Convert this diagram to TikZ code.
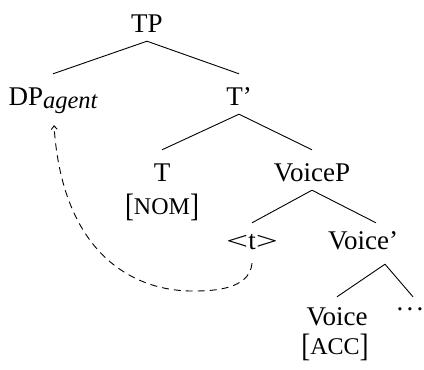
\documentclass[tikz,border=0pt]{standalone}
\usepackage{fontspec}
\setmainfont{Liberation Serif}
\usetikzlibrary{arrows.meta}
\newcommand{\fakesc}[1]{{\fontsize{24}{24}\selectfont #1}}
\newcommand{\lbrk}{\raisebox{-2pt}{\scalebox{1}[1.2]{[}}}
\newcommand{\rbrk}{\raisebox{-2pt}{\scalebox{1}[1.2]{]}}}
\newcommand{\wlt}{\scalebox{1.45}[0.92]{<}}
\newcommand{\wgt}{\scalebox{1.45}[0.92]{>}}
\begin{document}
\begin{tikzpicture}[x=1pt,y=-1pt,
  font=\fontsize{27}{27}\selectfont,
  word/.style={anchor=base,inner xsep=0pt,inner ysep=3pt,text height=28pt,text depth=6pt},
  feat/.style={anchor=base,inner sep=0pt},
  branch/.style={line width=0.9pt},
  move/.style={line width=0.9pt,dash pattern=on 7pt off 5pt,-{Straight Barb[length=3.5pt,width=6pt]}}
  ]
\useasboundingbox (0,0) rectangle (424,370);
\node[word] (TP) at (147,32) {TP};
\node[word] (DP) at (53,105) {DP\raisebox{-3pt}{\fontsize{24.5}{24.5}\selectfont\itshape agent}};
\node[word] (Tbar) at (239,105) {T’};
\node[word,text depth=0pt,inner ysep=1pt] (T) at (162,181) {T};
\node[feat] (nom) at (162,214) {\lbrk\fakesc{NOM}\rbrk};
\node[word] (VoiceP) at (312,181) {VoiceP};
\node[word] (t) at (252,249) {\wlt t\wgt};
\node[word] (Vbar) at (363,249) {Voice’};
\node[word,text depth=0pt,inner ysep=1pt] (Voice) at (337,325) {Voice};
\node[feat] (acc) at (335,354) {\lbrk\fakesc{ACC}\rbrk};
\node[anchor=base,inner xsep=0pt,inner ysep=3pt,text height=10pt,text depth=0pt] (dots) at (410,310) {.\kern3.25pt.\kern3.25pt.};
\draw[branch] (TP.south) -- (DP.north);
\draw[branch] (TP.south) -- (Tbar.north);
\draw[branch] (Tbar.south) -- ([yshift=2pt]T.north);
\draw[branch] (Tbar.south) -- (VoiceP.north);
\draw[branch] (VoiceP.south) -- ([yshift=-5pt]t.north);
\draw[branch] (VoiceP.south) -- ([xshift=13pt,yshift=-5pt]Vbar.north);
\draw[branch] ([xshift=22pt,yshift=-6pt]Vbar.south) -- ([yshift=-1pt]Voice.north);
\draw[branch] ([xshift=22pt,yshift=-6pt]Vbar.south) -- ([xshift=3pt]dots.north);
\draw[move] ([yshift=-5pt]t.south) .. controls (250,285) and (225,291) .. (195,291)
  .. controls (130,292) and (62,250) .. ([xshift=1pt,yshift=-11pt]DP.south);
\end{tikzpicture}
\end{document}
